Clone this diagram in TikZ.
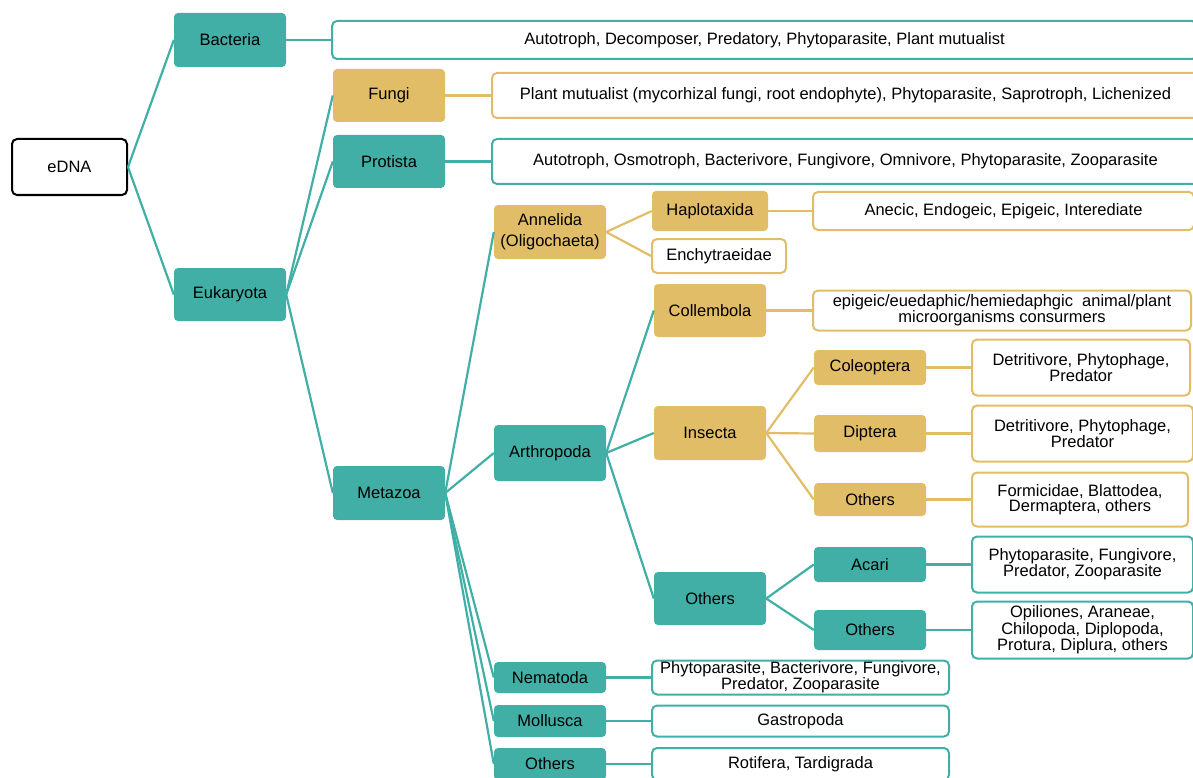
\documentclass[tikz,border=0pt]{standalone}
\usepackage{fontspec}
\setmainfont{Liberation Sans}
\usetikzlibrary{positioning}
\definecolor{tealc}{HTML}{41AFA5}
\definecolor{goldc}{HTML}{E2BD68}
\tikzset{
    taxon/.style={rounded corners=4pt, minimum width=112pt, inner sep=1pt,
    align=center, text=black, font=\fontsize{16.5}{21}\selectfont},
    tealtx/.style={taxon, fill=tealc},
    goldtx/.style={taxon, fill=goldc},
    trait/.style={draw, line width=2pt, rounded corners=5pt, fill=white,
    align=center, inner sep=1pt, text=black, font=\fontsize{16.5}{14}\selectfont},
    tealtr/.style={trait, draw=tealc},
    goldtr/.style={trait, draw=goldc},
    link/.style={line width=2.2pt}
}

\begin{document}
\begin{tikzpicture}[x=1pt,y=-1pt]
  \useasboundingbox (0,0) rectangle (1193,778);
  \clip (0,0) rectangle (1193,778);

  \node[trait, draw=black, minimum width=115pt, minimum height=56pt] (edna) at (69.5,167) {eDNA};

  \node[tealtx, minimum height=54pt] (bact) at (230,40) {Bacteria};
  \node[tealtr, minimum width=865pt, minimum height=38pt] (bactT) at (764.5,40) {Autotroph, Decomposer, Predatory, Phytoparasite, Plant mutualist};
  \node[tealtx, minimum height=53pt] (euk) at (230,294.5) {Eukaryota};

  \node[goldtx, minimum height=53pt] (fungi) at (389,95.5) {Fungi};
  \node[goldtr, minimum width=707pt, minimum height=45pt] (fungiT) at (845.5,95.5) {Plant mutualist (mycorhizal fungi, root endophyte), Phytoparasite, Saprotroph, Lichenized};
  \node[tealtx, minimum height=53pt] (prot) at (389,161.5) {Protista};
  \node[tealtr, minimum width=707pt, minimum height=45pt] (protT) at (845.5,161.5) {Autotroph, Osmotroph, Bacterivore, Fungivore, Omnivore, Phytoparasite, Zooparasite};
  \node[tealtx, minimum height=54pt] (meta) at (389,493) {Metazoa};

  \node[goldtx, minimum height=54pt] (anne) at (550,232) {Annelida\\(Oligochaeta)};
  \node[goldtx, minimum width=116pt, minimum height=40pt] (hapl) at (710,211) {Haplotaxida};
  \node[goldtr, minimum width=381pt, minimum height=38pt] (haplT) at (1003.5,211) {Anecic, Endogeic, Epigeic, Interediate};
  \node[goldtr, minimum width=134pt, minimum height=34pt] (ench) at (719,256) {Enchytraeidae};

  \node[tealtx, minimum height=56pt] (arth) at (550,453) {Arthropoda};
  \node[goldtx, minimum height=53pt] (coll) at (710,310.5) {Collembola};
  \node[goldtr, minimum width=378pt, minimum height=40pt] (collT) at (1002,310.5) {epigeic/euedaphic/hemiedaphgic\ \ animal/plant\\microorganisms consurmers};
  \node[goldtx, minimum height=54pt] (inse) at (710,433) {Insecta};
  \node[goldtx, minimum height=35pt] (cole) at (870,367.5) {Coleoptera};
  \node[goldtx, minimum height=37pt] (dipt) at (870,433.5) {Diptera};
  \node[goldtx, minimum height=33pt] (insO) at (870,499.5) {Others};
  \node[goldtr, minimum width=218pt, minimum height=56pt] (coleT) at (1081,367.5) {Detritivore, Phytophage,\\Predator};
  \node[goldtr, minimum width=221pt, minimum height=56pt] (diptT) at (1082.5,433.5) {Detritivore, Phytophage,\\Predator};
  \node[goldtr, minimum width=216pt, minimum height=54pt] (insOT) at (1080,499.5) {Formicidae, Blattodea,\\Dermaptera, others};
  \node[tealtx, minimum height=53pt] (artO) at (710,598.5) {Others};
  \node[tealtx, minimum height=35pt] (acar) at (870,564.5) {Acari};
  \node[tealtx, minimum height=40pt] (artOO) at (870,630) {Others};
  \node[tealtr, minimum width=221pt, minimum height=56pt] (acarT) at (1082.5,564.5) {Phytoparasite, Fungivore,\\Predator, Zooparasite};
  \node[tealtr, minimum width=221pt, minimum height=57pt] (artOOT) at (1082.5,630) {Opiliones, Araneae,\\Chilopoda, Diplopoda,\\Protura, Diplura, others};

  \node[tealtx, minimum height=31pt] (nema) at (550,677.5) {Nematoda};
  \node[tealtr, minimum width=297pt, minimum height=34pt] (nemaT) at (800.5,677.5) {Phytoparasite, Bacterivore, Fungivore,\\Predator, Zooparasite};
  \node[tealtx, minimum height=32pt] (moll) at (550,721) {Mollusca};
  \node[tealtr, minimum width=297pt, minimum height=31pt] (mollT) at (800.5,721) {Gastropoda};
  \node[tealtx, minimum height=32pt] (metO) at (550,764) {Others};
  \node[tealtr, minimum width=297pt, minimum height=32pt] (metOT) at (800.5,764) {Rotifera, Tardigrada};

  \foreach \a/\b in {edna/bact, edna/euk, bact/bactT, euk/fungi, euk/prot, euk/meta,
      prot/protT, meta/anne, meta/arth, meta/nema, meta/moll, meta/metO,
      arth/coll, arth/inse, arth/artO, artO/acar, artO/artOO, acar/acarT,
      artOO/artOOT, nema/nemaT, moll/mollT, metO/metOT}
    \draw[link, tealc] (\a.east) -- (\b.west);
  \foreach \a/\b in {fungi/fungiT, anne/hapl, anne/ench, hapl/haplT, coll/collT,
      inse/cole, inse/dipt, inse/insO, cole/coleT, dipt/diptT, insO/insOT}
    \draw[link, goldc] (\a.east) -- (\b.west);
\end{tikzpicture}
\end{document}
